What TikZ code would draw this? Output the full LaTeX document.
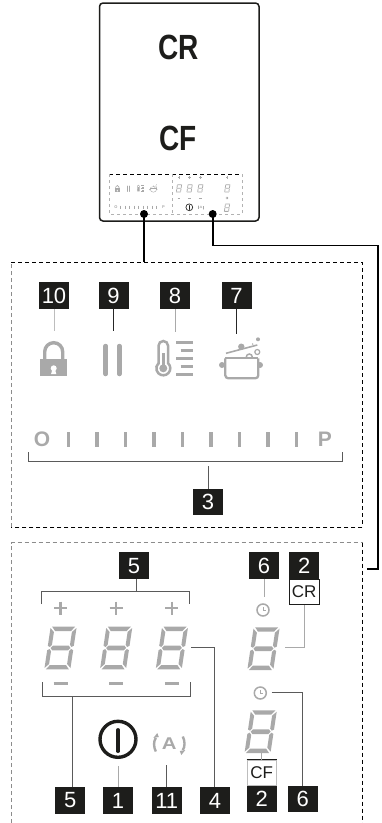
\documentclass[tikz,border=0pt]{standalone}
\usepackage{fontspec}
\setmainfont{Liberation Sans}
\definecolor{bdg}{HTML}{1D1D1B}
\definecolor{icn}{HTML}{A9A9A9}
\definecolor{lnk}{HTML}{5A5A5A}
\definecolor{lgt}{HTML}{BDBDBD}
\def\lw{1}
\tikzset{
  x=1pt,y=-1pt,
  badge/.style={fill=bdg,text=white,minimum width=30pt,minimum height=26.5pt,inner sep=0pt,font=\fontsize{22}{22}\selectfont},
  tagbox/.style={fill=white,draw=bdg,line width=.7pt,minimum width=29.5pt,minimum height=25pt,inner sep=0pt,font=\fontsize{17}{17}\selectfont,text=bdg},
  dashdark/.style={draw=black,line width=.9pt,dash pattern=on 4pt off 3pt},
  dashgray/.style={draw=black!45,line width=.9pt,dash pattern=on 4pt off 3pt},
  dashmini/.style={draw=black!30,line width=.6pt,dash pattern=on 3pt off 3pt},
  wire/.style={line width=1.7pt,draw=black},
  cdark/.style={line width=.8pt,draw=black!85},
  cmid/.style={line width=.8pt,draw=lnk},
  clight/.style={line width=.8pt,draw=lgt},
  dotend/.style={circle,fill=black,inner sep=0pt,minimum size=8pt},
  letter/.style={text=icn,inner sep=0pt,font=\fontsize{21}{21}\selectfont\bfseries},
}
% seven segment digit, centred on the origin of the current scope
\newcommand\segdigit[2]{%
  \begin{scope}[shift={(#1,#2)},xslant=.15]
    \fill[icn] (-11.5,-21.3) -- (11.5,-21.3) -- (8,-17) -- (-8,-17) -- cycle;
    \fill[icn] (-11.5,21.3) -- (11.5,21.3) -- (8,17) -- (-8,17) -- cycle;
    \fill[icn] (-8,-2.3) -- (8,-2.3) -- (10,0) -- (8,2.3) -- (-8,2.3) -- (-10,0) -- cycle;
    \fill[icn] (-13,-20) -- (-9,-16) -- (-9,-3.2) -- (-10.8,-1) -- (-13,-2.2) -- cycle;
    \fill[icn] (13,-20) -- (9,-16) -- (9,-3.2) -- (10.8,-1) -- (13,-2.2) -- cycle;
    \fill[icn] (-13,20) -- (-9,16) -- (-9,3.2) -- (-10.8,1) -- (-13,2.2) -- cycle;
    \fill[icn] (13,20) -- (9,16) -- (9,3.2) -- (10.8,1) -- (13,2.2) -- cycle;
  \end{scope}}
\newcommand\lockicon{%
  \fill[icn] (-13.7,-1.3) rectangle (13.7,16);
  \draw[icn,line width=\lw*3.4pt] (-9,0) -- (-9,-8.3) arc[start angle=180,end angle=0,radius=9pt] -- (9,0);
  \fill[white] (0,8.3) circle[radius=3pt];
  \fill[white] (-1.2,9) -- (1.2,9) -- (2.6,14) -- (-2.6,14) -- cycle;}
\newcommand\pauseicon{%
  \draw[icn,line width=\lw*4.5pt,line cap=round] (-6.8,-14) -- (-6.8,14);
  \draw[icn,line width=\lw*4.5pt,line cap=round] (6.8,-14) -- (6.8,14);}
\newcommand\thermoicon{%
  \draw[icn,line width=\lw*2.5pt] (-16.5,3.2) -- (-16.5,-14.2) arc[start angle=180,end angle=0,radius=4.8pt] -- (-6.9,3.2) arc[start angle=46.7,end angle=-226.7,radius=7pt] -- cycle;
  \fill[icn] (-11.7,8.3) circle[radius=4pt];
  \fill[icn] (-13.2,-7.3) rectangle (-10.2,8);
  \foreach \yy/\xx in {-17.7/1,-9.3/5.7,-1.3/1,6.7/5.7,14.7/1}
    \draw[icn,line width=\lw*2.8pt] (\xx,\yy) -- (18.3,\yy);}
\newcommand\poticon{%
  \draw[icn,line width=\lw*2.3pt,rounded corners=3pt] (-15.7,-1.7) -- (-15.7,18.3) -- (17.3,18.3) -- (17.3,-1.7);
  \draw[icn,line width=\lw*2.3pt] (-15.7,-1.7) -- (17.3,-1.7);
  \fill[icn] (-19,5) circle[radius=3pt] (19,5) circle[radius=3pt];
  \draw[icn,line width=\lw*1.6pt] (-15,-6.7) -- (16.3,-15);
  \fill[icn] (0.3,-13.3) circle[radius=3.2pt] (17,-20.7) circle[radius=2pt] (11.7,-16) circle[radius=.8pt];
  \draw[icn,line width=\lw*1.2pt] (16.3,-8) circle[radius=2.5pt];
  \draw[icn,line width=\lw*1.5pt] (5.3,-3) arc[start angle=180,end angle=0,radius=3pt];}
\newcommand\clockicon{%
  \draw[icn,line width=\lw*1.5pt] (0,0) circle[radius=6pt];
  \draw[icn,line width=\lw*1pt] (0,-3.2) -- (0,0) -- (2.8,0);}
\newcommand\powericon{%
  \draw[bdg,line width=\lw*3.4pt] (0,0) circle[radius=18pt];
  \draw[bdg,line width=\lw*3.4pt,line cap=round] (0,-9.5) -- (0,12);}
\newcommand\autoicon{%
  \node[text=icn,inner sep=0pt,font=\fontsize{17}{17}\selectfont\bfseries,transform shape] at (0,0) {\scalebox{1.2}[1]{A}};
  \draw[icn,line width=\lw*2.4pt] (-13.5,7.5) .. controls (-15.8,3) and (-15.8,-3) .. (-13.5,-6);
  \draw[icn,line width=\lw*2.4pt] (13.5,-7.5) .. controls (15.8,-3) and (15.8,3) .. (13.5,6);
  \fill[icn] (-16,-6) -- (-10.5,-7) -- (-12,-11) -- cycle;
  \fill[icn] (16,6) -- (10.5,7) -- (12,11) -- cycle;}
\newcommand\plusicon[2]{\draw[icn,line width=\lw*2.5pt] (#1-6.5,#2) -- (#1+6.5,#2) (#1,#2-6.5) -- (#1,#2+6.5);}
\newcommand\minusicon[2]{\draw[icn,line width=\lw*2.5pt] (#1-7,#2) -- (#1+7,#2);}
\begin{document}
\begin{tikzpicture}
\useasboundingbox (0,0) rectangle (381,823);
% ---- appliance
\draw[line width=1.5pt,rounded corners=3.5pt,draw=bdg] (99.5,3) rectangle (259,221);
\node[inner sep=0pt,font=\fontsize{35}{35}\selectfont\bfseries,text=bdg] (labCR) at (179,47) {\scalebox{.8}[1]{CR}};
\node[inner sep=0pt,font=\fontsize{35}{35}\selectfont\bfseries,text=bdg] (labCF) at (178,138) {\scalebox{.8}[1]{CF}};
% mini panel
\draw[dashdark] (109,174) -- (242,174);
\draw[dashmini] (109,174) -- (109,214) -- (242,214) -- (242,174);
\draw[dashmini] (172,174) -- (172,214);
\begin{scope}[shift={(117.3,188.7)},scale=.19]\def\lw{.19}\lockicon\end{scope}
\begin{scope}[shift={(128.3,188.7)},scale=.19]\def\lw{.19}\pauseicon\end{scope}
\begin{scope}[shift={(140.7,188.7)},scale=.19]\def\lw{.19}\thermoicon\end{scope}
\begin{scope}[shift={(153.3,188.7)},scale=.19]\def\lw{.19}\poticon\end{scope}
\node[text=icn,inner sep=0pt,font=\fontsize{4}{4}\selectfont\bfseries] (miniO) at (116,207.3) {O};
\node[text=icn,inner sep=0pt,font=\fontsize{4}{4}\selectfont\bfseries] (miniP) at (163.5,207.3) {P};
\foreach \xx in {120.5,125,129.5,134,138.5,143,147.5,152,156.5}
  \draw[icn,line width=.5pt] (\xx,205.6) -- (\xx,209);
\begin{scope}[scale=.19]\def\lw{.19}
  \foreach \xx in {179,189.3,200.3,227} {\plusicon{\xx/.19}{177.7/.19}}
  \foreach \xx in {179,189.3,200.3} {\minusicon{\xx/.19}{198.5/.19}}
\end{scope}
\begin{scope}[shift={(179,188.3)},scale=.19]\segdigit{0}{0}\end{scope}
\begin{scope}[shift={(189.6,188.3)},scale=.19]\segdigit{0}{0}\end{scope}
\begin{scope}[shift={(200.3,188.3)},scale=.19]\segdigit{0}{0}\end{scope}
\begin{scope}[shift={(227.3,188.3)},scale=.19]\segdigit{0}{0}\end{scope}
\begin{scope}[shift={(227,207.7)},scale=.19]\segdigit{0}{0}\end{scope}
\begin{scope}[shift={(227,198)},scale=.19]\def\lw{.19}\clockicon\end{scope}
\begin{scope}[shift={(189.3,207.3)},scale=.19]\def\lw{.19}\powericon\end{scope}
\begin{scope}[shift={(201,207.5)},scale=.19]\def\lw{.19}\autoicon\end{scope}
% ---- upper panel
\draw[dashdark] (11,262.7) -- (362.5,262.7) -- (362.5,527) -- (11,527);
\draw[dashgray] (11,527) -- (11,262.7);
% ---- lower panel
\draw[dashgray] (11,823) -- (11,542.7) -- (362.5,542.7);
\draw[dashdark] (362.5,542.7) -- (362.5,823);
% ---- links from the appliance
\node[dotend] (d1) at (144,214) {};
\node[dotend] (d2) at (212.7,214) {};
\coordinate (c1) at (144,262);
\coordinate (c2) at (366.7,569);
\draw[wire] (d1.center) -- (c1);
\draw[wire] (d2.center) |- (378,245.5) |- (c2);
% ---- upper panel: badges
\node[badge] (b10) at (54,295.7) {10};
\node[badge] (b9) at (113.5,295.7) {9};
\node[badge] (b8) at (175,295.7) {8};
\node[badge] (b7) at (236.5,295.7) {7};
\node[badge] (b3) at (208,502) {3};
\coordinate (e10) at (b10.south |- 0,330.7);
\coordinate (e9) at (b9.south |- 0,330.7);
\coordinate (e8) at (b8.south |- 0,331.5);
\coordinate (e7) at (b7.south |- 0,333.7);
\coordinate (e3) at (b3.north |- 0,466);
\draw[clight] (b10.south) -- (e10);
\draw[cdark] (b9.south) -- (e9);
\draw[line width=.8pt,draw=icn] (b8.south) -- (e8);
\draw[cdark] (b7.south) -- (e7);
\draw[cmid] (b3.north) -- (e3);
\begin{scope}[shift={(53.7,360)}]\lockicon\end{scope}
\begin{scope}[shift={(112.5,360)}]\pauseicon\end{scope}
\begin{scope}[shift={(175,360)}]\thermoicon\end{scope}
\begin{scope}[shift={(241,360)}]\poticon\end{scope}
\node[letter] (lO) at (42,439.5) {O};
\node[letter] (lP) at (325,439.5) {P};
\foreach \xx in {68.3,97,125.3,154,182.3,211,239.3,268,296.3}
  \draw[icn,line width=3.5pt] (\xx,432) -- (\xx,447);
\draw[cmid,line width=1pt] (28.3,452) -- (28.3,461.7) -- (342,461.7) -- (342,452);
% ---- lower panel: badges
\node[badge] (b5t) at (134,565.7) {5};
\node[badge] (b6t) at (264,565.7) {6};
\node[badge] (b2t) at (304.2,565.7) {2};
\node[tagbox,anchor=north] (tCR) at (b2t.south) {CR};
\node[badge] (b5b) at (70.3,800.5) {5};
\node[badge] (b1) at (118,800.5) {1};
\node[badge] (b11) at (166.7,800.5) {11};
\node[badge] (b4) at (215,800.5) {4};
\node[badge] (b2b) at (261.7,799) {2};
\node[tagbox,anchor=south,draw=lgt] (tCF) at (b2b.north) {CF};
\node[badge] (b6b) at (302.8,799) {6};
\draw[bdg,line width=.8pt] (tCF.north west) -- (tCF.north east);
% brackets
\coordinate (t5) at (b5t.south |- 0,591.7);
\draw[cmid,line width=1pt] (41.7,604) -- (41.7,591.7) -- (189.3,591.7) -- (189.3,604);
\draw[cmid,line width=1pt] (b5t.south -| 136.3,0) -- (t5 -| 136.3,0);
\draw[cmid,line width=1pt] (42,682.3) -- (42,696) -- (190.3,696) -- (190.3,682.3);
\coordinate (t5b) at (72.3,696);
\draw[cmid,line width=1pt] (t5b) -- (b5b.north -| t5b);
% digits and marks
\foreach \xx in {60.5,116.2,171.9} {\segdigit{\xx}{648}\plusicon{\xx}{608}\minusicon{\xx}{683.7}}
\segdigit{263.5}{648.7}
\segdigit{260.7}{731.7}
\begin{scope}[shift={(263,610)}]\clockicon\end{scope}
\begin{scope}[shift={(260.3,693)}]\clockicon\end{scope}
\begin{scope}[shift={(118,739.3)}]\powericon\end{scope}
\begin{scope}[shift={(169.3,744)}]\autoicon\end{scope}
% connectors
\coordinate (e6t) at (264,596.7);
\coordinate (e1) at (118.3,766);
\coordinate (e11) at (166.3,765);
\coordinate (e4) at (191,647.3);
\coordinate (ecr) at (285.3,647.3);
\coordinate (e6b) at (271.7,692.3);
\coordinate (ecf) at (261.7,752.5);
\draw[line width=.8pt,draw=icn] (b6t.south) -- (e6t);
\draw[line width=.8pt,draw=icn] (e1) -- (b1.north -| e1);
\draw[cmid] (e11) -- (b11.north -| e11);
\draw[cmid] (e4) -| (b4.north -| 214.3,0);
\draw[line width=.8pt,draw=icn] (ecr) -| (tCR.south);
\draw[cmid] (e6b) -| (b6b.north);
\draw[line width=.8pt,draw=icn] (ecf) -- (tCF.north);
\end{tikzpicture}
\end{document}
